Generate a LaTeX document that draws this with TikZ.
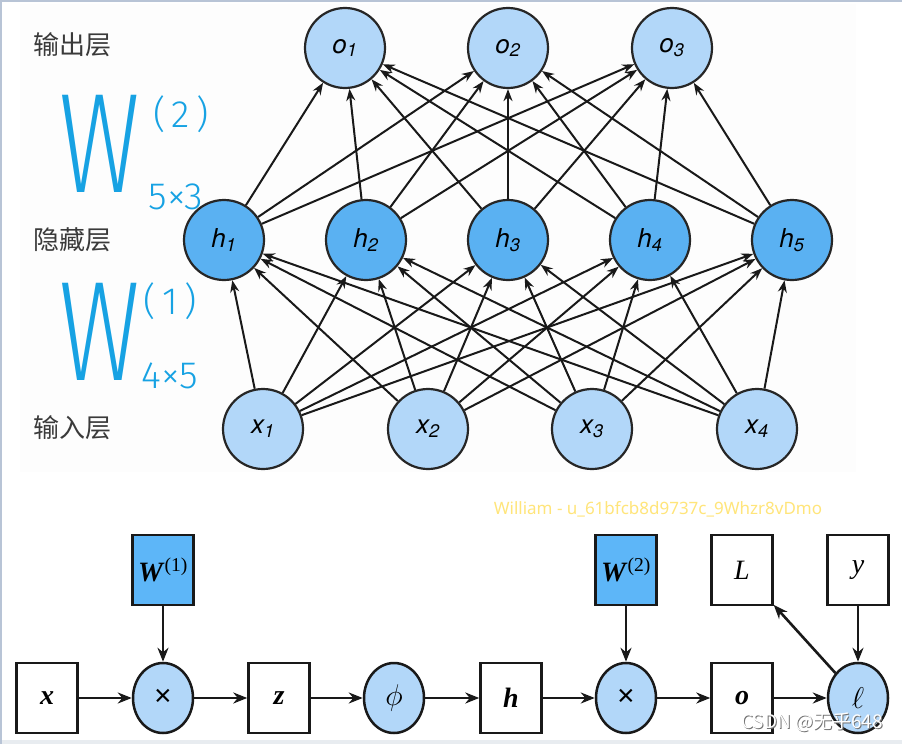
\RequirePackage{fix-cm}
\documentclass[tikz,border=0pt]{standalone}
\usepackage{fontspec}
\setmainfont{Liberation Serif}
\newfontfamily\heros{TeX Gyre Heros}
\newfontfamily\cjk{Noto Sans CJK SC}
\newfontfamily\notosans{Noto Sans}
\newfontfamily\handfont{Fira Sans Light}
\usetikzlibrary{arrows.meta,shapes.geometric}

\definecolor{lightblue}{HTML}{B2D7F9}
\definecolor{hidblue}{HTML}{5AB1F2}
\definecolor{wblue}{HTML}{5DB6F8}
\definecolor{inkblue}{HTML}{17A2E3}
\definecolor{wmyellow}{HTML}{FFE57A}
\definecolor{labelgray}{HTML}{3A3A3A}
\definecolor{panelgray}{HTML}{FDFDFD}
\definecolor{framegray}{HTML}{B8C4D6}
\definecolor{edgegray}{HTML}{E8ECF0}

\newcommand{\setfs}[1]{\fontsize{#1}{#1}\selectfont}

\tikzset{
  neuron/.style={circle, draw=black!85, line width=2.2pt, fill=lightblue,
    minimum size=80pt, inner sep=0pt, font=\heros\itshape\setfs{26}},
  netarrow/.style={-{Stealth[length=12pt,width=9pt]}, line width=2pt, black!90},
  layerlabel/.style={font=\cjk\setfs{26}, text=labelgray},
  inkW/.style={text=inkblue, font=\handfont\setfs{142}, inner sep=0pt},
  inkidx/.style={text=inkblue, font=\handfont\setfs{38}, inner sep=0pt},
  varbox/.style={rectangle, draw=black!90, line width=2.5pt, fill=white,
    minimum width=61pt, minimum height=70pt, inner sep=0pt, font=\setfs{28}},
  opnode/.style={ellipse, draw=black!90, line width=2.5pt, fill=lightblue,
    minimum width=60pt, minimum height=70pt, inner sep=0pt, font=\setfs{30}},
  flowarrow/.style={-{Stealth[length=14pt,width=11pt]}, line width=2.6pt, black!90},
  csdn/.style={font=\cjk\setfs{19}}
}

\begin{document}
\begin{tikzpicture}[x=1pt, y=-1pt]
  \useasboundingbox (0,0) rectangle (902,744);
  \fill[white] (0,0) rectangle (902,744);
  \fill[panelgray] (20,4) rectangle (856,472);
  \fill[edgegray] (0,740) rectangle (902,744);
  \draw[framegray, line width=2pt] (1,744) -- (1,1) -- (902,1);

  % layer names
  \node[layerlabel] (lout) at (72,45) {输出层};
  \node[layerlabel] (lhid) at (72,240) {隐藏层};
  \node[layerlabel] (lin) at (72,428) {输入层};

  % handwritten weight shapes
  \node[inkW] (w2big) at (100,144) {\scalebox{0.7}[1]{W}};
  \node[inkidx] (w2sup) at (181,114) {(\,2\,)};
  \node[inkidx] (w2sub) at (176,197) {5×3};
  \node[inkW] (w1big) at (100,332) {\scalebox{0.7}[1]{W}};
  \node[inkidx] (w1sup) at (170,301) {(\,1\,)};
  \node[inkidx] (w1sub) at (170,376) {4×5};

  % neurons
  \foreach \i/\px in {1/345, 2/508, 3/672}
    \node[neuron] (o\i) at (\px,48) {o\textsubscript{\i}};
  \foreach \i in {1,...,5}
    \node[neuron, fill=hidblue] (h\i) at ({224+142*(\i-1)},240) {h\textsubscript{\i}};
  \foreach \i/\px in {1/263, 2/428, 3/592, 4/757}
    \node[neuron] (x\i) at (\px,429) {x\textsubscript{\i}};

  \foreach \i in {1,...,4}
    \foreach \j in {1,...,5}
      \draw[netarrow] (x\i) -- (h\j);
  \foreach \j in {1,...,5}
    \foreach \k in {1,2,3}
      \draw[netarrow] (h\j) -- (o\k);

  % computational graph
  \node[varbox] (vx) at (47,698) {\textbf{\textit{x}}};
  \node[opnode] (mul1) at (163,698) {\notosans×};
  \node[varbox] (vz) at (279,698) {\textbf{\textit{z}}};
  \node[opnode] (act) at (394,698) {$\phi$};
  \node[varbox] (vh) at (511,698) {\textbf{\textit{h}}};
  \node[opnode] (mul2) at (626,698) {\notosans×};
  \node[varbox] (vo) at (742,698) {\textbf{\textit{o}}};
  \node[opnode] (loss) at (858,698) {$\ell$};
  \node[varbox, fill=wblue] (w1) at (163,570) {\textbf{\textit{W}}\textsuperscript{(1)}};
  \node[varbox, fill=wblue] (w2) at (626,570) {\textbf{\textit{W}}\textsuperscript{(2)}};
  \node[varbox] (vL) at (742,570) {\textit{L}};
  \node[varbox] (vy) at (858,570) {\textit{y}};

  \draw[flowarrow] (vx) edge (mul1)
                   (mul1) edge (vz)
                   (vz) edge (act)
                   (act) edge (vh)
                   (vh) edge (mul2)
                   (mul2) edge (vo)
                   (vo) edge (loss)
                   (w1) edge (mul1)
                   (w2) edge (mul2)
                   (vy) edge (loss)
                   (loss) edge (vL);

  % watermarks
  \node[font=\notosans\setfs{17}, text=wmyellow] (wm) at (658,509) {William - u\_61bfcb8d9737c\_9Whzr8vDmo};
  \node[csdn, text=black!55] (csdnshade) at (813,723) {CSDN @无乎648};
  \node[csdn, text=white] (csdntext) at (812,722) {CSDN @无乎648};
\end{tikzpicture}
\end{document}
